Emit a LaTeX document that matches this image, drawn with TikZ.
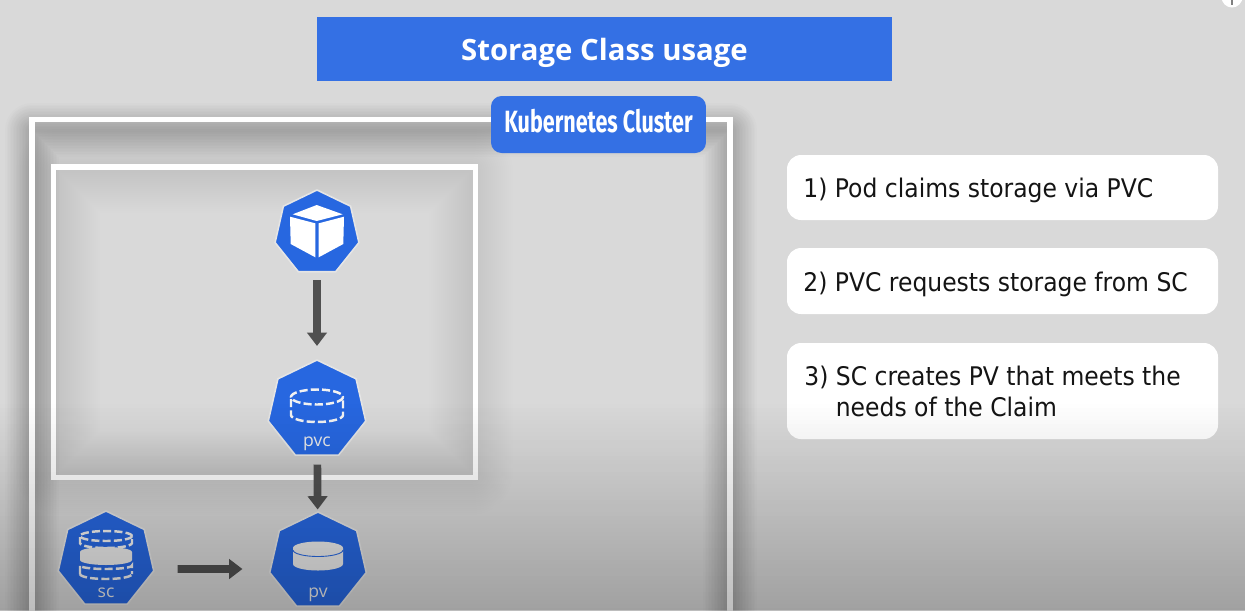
\documentclass[tikz,border=0pt]{standalone}
\usepackage{fontspec}
\setmainfont{Open Sans}
\newfontfamily\clusterfont[FakeStretch=0.70]{Fira Sans}
\newfontfamily\stepfont[FakeStretch=0.915]{DejaVu Sans}
\usetikzlibrary{arrows.meta,shapes.geometric}

\definecolor{titleblue}{HTML}{3470E4}
\definecolor{iconblue}{HTML}{2767E0}
\definecolor{pagegray}{HTML}{D9D9D9}
\definecolor{arrowgray}{HTML}{505050}

\tikzset{
  frameline/.style={draw=white, line width=3.1pt},
  hepta/.style={regular polygon, regular polygon sides=7, draw=white!90!black, line width=0.9pt,
    fill=iconblue, inner sep=0pt},
  iconlabel/.style={text=white!92!black, font=\fontsize{10pt}{11pt}\selectfont, inner sep=0pt},
  bigarrow/.style={draw=arrowgray, line width=4.4pt, -{Triangle[length=7.6pt, width=11pt]}},
  stepbox/.style={fill=white, rounded corners=8pt},
  steptext/.style={text=black!92, font=\stepfont\fontsize{14.6pt}{18pt}\selectfont, anchor=base west, inner sep=0pt},
  dashline/.style={draw=white!95!black, line width=1.4pt, dash pattern=on 4.6pt off 1.8pt},
  glow/.style={draw=black, line join=round},
}

\begin{document}
\begin{tikzpicture}[x=0.02cm, y=-0.02cm]
    % page
    \fill[pagegray] (0,0) rectangle (1245,610);
    \clip (0,0) rectangle (1245,610);
    \fill[white] (1232,-3) circle (10.5);
    \fill[gray] (1231,0) rectangle (1233,5);

    % shadow along the cluster frame
    \foreach \wide in {3,6,...,54}
        \draw[glow, opacity=.013, line width=\wide*0.567pt] (32,620) -- (32,130) -- (730,130) -- (730,620);

    % shadow along the inner frame
    \foreach \wide in {4,8,...,84}
        \draw[glow, opacity=.005, line width=\wide*0.567pt] (58,171) rectangle (471,473);

    % frames
    \draw[frameline] (32,620) -- (32,119.5) -- (730,119.5) -- (730,620);
    \draw[frameline] (53.5,167) rectangle (475.5,477.5);

    % title
    \node[fill=titleblue, text=white, minimum width=11.5cm, minimum height=1.28cm, inner sep=0pt, text depth=0pt,
      font=\fontsize{16.7pt}{20pt}\selectfont\bfseries] (title) at (604.5,49) {Storage Class usage};
    \node[fill=titleblue, text=white, rounded corners=6pt, minimum width=4.3cm, minimum height=1.14cm, inner sep=0pt, text depth=4pt,
      font=\clusterfont\fontsize{17.5pt}{20pt}\selectfont\bfseries] (cluster) at (598.5,124.5) {Kubernetes Cluster};

    % steps
    \fill[stepbox] (787,155) rectangle (1218,220);
    \fill[stepbox] (787,248) rectangle (1218,314);
    \fill[stepbox] (787,343) rectangle (1218,439);
    \node[steptext] (first) at (803,197) {1) Pod claims storage via PVC};
    \node[steptext] (second) at (803,291) {2) PVC requests storage from SC};
    \node[steptext] (third) at (804,385) {3) SC creates PV that meets the};
    \node[steptext] (fourth) at (835.5,416) {needs of the Claim};

    % icons
    \node[hepta, minimum size=1.72cm] (pod) at (317,233) {};
    \node[hepta, minimum size=2.0cm] (pvc) at (317,410) {};
    \node[hepta, minimum size=1.98cm] (pv) at (318,561.5) {};
    \node[hepta, minimum size=1.96cm] (sc) at (106,560) {};

    % cube
    \fill[white] (316.7,205) -- (342.7,214.3) -- (316.7,221) -- (292.7,214.3) -- cycle;
    \fill[white] (290,216.7) -- (315.3,223.3) -- (315.3,257.3) -- (290.7,244) -- cycle;
    \fill[white] (318.7,223.3) -- (344,216.7) -- (343.3,244) -- (318.7,257.3) -- cycle;

    % dashed disc of the claim
    \draw[dashline] (317,397) ellipse (26 and 7.5);
    \draw[dashline] (291,399) -- (291,415) arc[start angle=180, end angle=360, x radius=26, y radius=-7] -- (343,399);
    \node[iconlabel] (pvctext) at (317,444) {pvc};

    % disc of the volume
    \fill[white!92!black] (293,548) arc[start angle=180, end angle=360, x radius=25, y radius=6.5]
      -- (343,564) arc[start angle=360, end angle=180, x radius=25, y radius=-6.5] -- cycle;
    \draw[iconblue, line width=0.5pt] (293,550) arc[start angle=180, end angle=360, x radius=25, y radius=-6.5];
    \fill[white!92!black] (318,548.5) ellipse (25 and 6);
    \node[iconlabel] (pvtext) at (318,595) {pv};

    % discs of the class
    \draw[dashline] (106,536) ellipse (26 and 5);
    \draw[dashline] (80,537) -- (80,543) arc[start angle=180, end angle=360, x radius=26, y radius=-5] -- (132,537);
    \fill[white!92!black] (80,552) arc[start angle=180, end angle=360, x radius=26, y radius=5]
      -- (132,560) arc[start angle=360, end angle=180, x radius=26, y radius=-5] -- cycle;
    \draw[dashline] (80,574) -- (80,565.5) arc[start angle=180, end angle=360, x radius=26, y radius=-3.5] -- (132,574);
    \draw[dashline] (80,574) arc[start angle=180, end angle=360, x radius=26, y radius=-5];
    \node[iconlabel] (sctext) at (106,593) {sc};

    % arrows
    \draw[bigarrow, xshift=0.02cm, shorten <=4.5pt, shorten >=7.5pt] (pod) -- (pvc);
    \draw[bigarrow, xshift=0.02cm, shorten <=5pt, shorten >=1pt] (pvc) -- (pv);
    \draw[bigarrow, shorten <=14.5pt, shorten >=16.5pt] ([yshift=-0.18cm]sc.east) -- ([yshift=-0.15cm]pv.west);

    % darker towards the bottom
    \foreach \row in {400,404,...,608}
        \fill[black, opacity={.26*(\row-400)/210}] (0,\row) rectangle (1245,\row+4);
\end{tikzpicture}
\end{document}
